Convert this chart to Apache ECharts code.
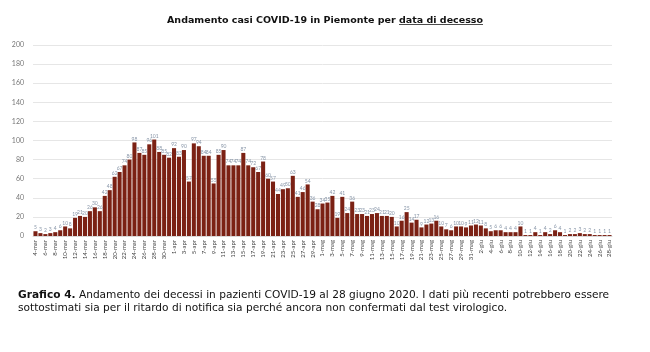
<!DOCTYPE html>
<html>
<head>
<meta charset="utf-8">
<script src="https://cdn.jsdelivr.net/npm/echarts@6/dist/echarts.min.js"></script>
<style>
  html, body { margin: 0; padding: 0; background: #fff; }
  #chart { width: 650px; height: 352px; }
</style>
</head>
<body>
<div id="chart"></div>
<script>
// giorni (asse x)
const giorni = [
  '4-mar', '5-mar', '6-mar', '7-mar', '8-mar', '9-mar', '10-mar', '11-mar', '12-mar', '13-mar',
  '14-mar', '15-mar', '16-mar', '17-mar', '18-mar', '19-mar', '20-mar', '21-mar', '22-mar', '23-mar',
  '24-mar', '25-mar', '26-mar', '27-mar', '28-mar', '29-mar', '30-mar', '31-mar',
  '1-apr', '2-apr', '3-apr', '4-apr', '5-apr', '6-apr', '7-apr', '8-apr', '9-apr', '10-apr',
  '11-apr', '12-apr', '13-apr', '14-apr', '15-apr', '16-apr', '17-apr', '18-apr', '19-apr', '20-apr',
  '21-apr', '22-apr', '23-apr', '24-apr', '25-apr', '26-apr', '27-apr', '28-apr', '29-apr', '30-apr',
  '1-mag', '2-mag', '3-mag', '4-mag', '5-mag', '6-mag', '7-mag', '8-mag', '9-mag', '10-mag',
  '11-mag', '12-mag', '13-mag', '14-mag', '15-mag', '16-mag', '17-mag', '18-mag', '19-mag', '20-mag',
  '21-mag', '22-mag', '23-mag', '24-mag', '25-mag', '26-mag', '27-mag', '28-mag', '29-mag', '30-mag', '31-mag',
  '1-giu', '2-giu', '3-giu', '4-giu', '5-giu', '6-giu', '7-giu', '8-giu', '9-giu', '10-giu',
  '11-giu', '12-giu', '13-giu', '14-giu', '15-giu', '16-giu', '17-giu', '18-giu', '19-giu', '20-giu',
  '21-giu', '22-giu', '23-giu', '24-giu', '25-giu', '26-giu', '27-giu', '28-giu'
]

// decessi per giorno
const decessi = [
  5, 3, 2, 3, 4, 6, 10, 8, 19, 21,
  20, 26, 30, 26, 42, 48, 62, 67, 74, 80,
  98, 87, 85, 96, 101, 88, 85, 82, 92, 83,
  90, 57, 97, 94, 84, 84, 55, 85, 90, 74,
  74, 74, 87, 74, 72, 67, 78, 60, 57, 44,
  49, 50, 63, 41, 46, 54, 36, 28, 34, 35,
  42, 19, 41, 24, 36, 23, 23, 21, 23, 24,
  21, 21, 20, 10, 16, 25, 14, 17, 9, 12,
  13, 16, 10, 7, 6, 10, 10, 9, 11, 12,
  11, 8, 5, 6, 6, 4, 4, 4, 10, 1,
  1, 4, 1, 4, 2, 6, 4, 1, 2, 2,
  3, 2, 2, 1, 1, 1, 1
]

const yTicks = [0, 20, 40, 60, 80, 100, 120, 140, 160, 180, 200]

const titolo = 'Andamento casi COVID-19 in Piemonte per '
const titoloSott = 'data di decesso'
const didascalia1 = 'Andamento dei decessi in pazienti COVID-19 al 28 giugno 2020. I dati più recenti potrebbero essere'
const didascalia2 = 'sottostimati sia per il ritardo di notifica sia perché ancora non confermati dal test virologico.'

const font = 'Lato, "Open Sans", sans-serif'
const wideFont = '"DejaVu Sans", sans-serif'
const titleSize = 9.5

// misura il titolo per posizionare la sottolineatura
const ctx = document.createElement('canvas').getContext('2d')
ctx.font = 'bold ' + titleSize + 'px ' + wideFont
const wA = ctx.measureText(titolo).width
const wB = ctx.measureText(titoloSott).width
const titleLeft = 325 - (wA + wB) / 2

const myChart = echarts.init(document.getElementById('chart'))

const option = {
  animation: false,
  textStyle: { fontFamily: font },
  title: {
    text: '{a|' + titolo + '}{b|' + titoloSott + '}',
    left: 'center',
    top: 11,
    textStyle: {
      rich: {
        a: { fontSize: titleSize, fontWeight: 'bold', color: '#111', fontFamily: wideFont },
        b: { fontSize: titleSize, fontWeight: 'bold', color: '#111', fontFamily: wideFont }
      }
    }
  },
  grid: {
    left: 33,
    right: 38,
    top: 45,
    bottom: 116
  },
  xAxis: {
    type: 'category',
    data: giorni,
    axisLine: { lineStyle: { color: '#d9d9d9' } },
    axisTick: { show: false },
    axisLabel: {
      interval: 1,
      rotate: 90,
      fontSize: 6,
      color: '#444',
      margin: 4
    }
  },
  yAxis: {
    type: 'value',
    min: yTicks[0],
    max: yTicks[yTicks.length - 1],
    interval: 20,
    axisLine: { show: false },
    axisTick: { show: false },
    splitLine: { lineStyle: { color: '#e6e6e6', width: 1 } },
    axisLabel: { fontSize: 7, color: '#777', margin: 9 }
  },
  series: [{
    name: 'Decessi',
    type: 'bar',
    data: decessi,
    barCategoryGap: '18%',
    itemStyle: { color: '#7b2114' },
    label: {
      show: true,
      position: 'top',
      distance: 1,
      fontSize: 5,
      color: '#8896a8'
    }
  }],
  graphic: [
    {
      type: 'rect',
      shape: { x: titleLeft + wA, y: 24, width: wB, height: 0.8 },
      style: { fill: '#111' }
    },
    {
      type: 'text',
      left: 18,
      top: 289,
      style: {
        text: '{b|Grafico 4.} ' + didascalia1 + '\n' + didascalia2,
        fontSize: 10.6,
        lineHeight: 13,
        fill: '#111',
        fontFamily: wideFont,
        rich: {
          b: { fontSize: 10.6, fontWeight: 'bold', fill: '#111', fontFamily: wideFont }
        }
      }
    }
  ]
}
myChart.setOption(option)
</script>
</body>
</html>
